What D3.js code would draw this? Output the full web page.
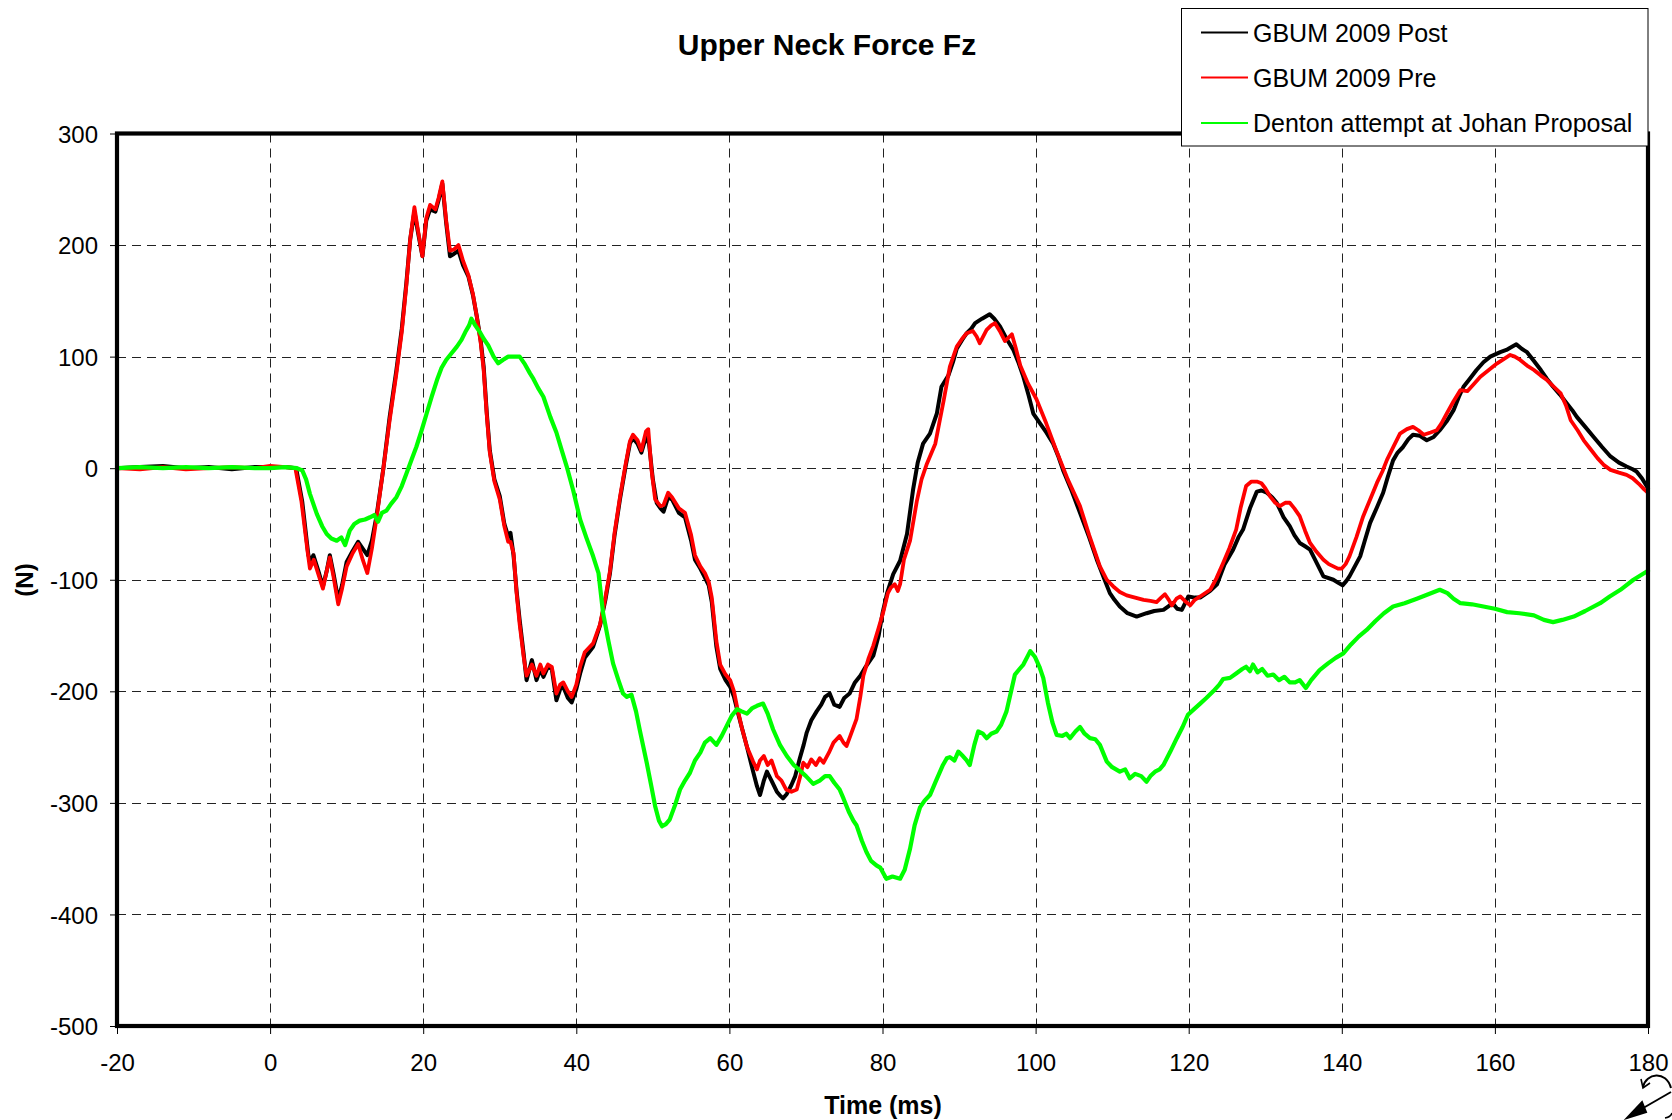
<!DOCTYPE html>
<html>
<head>
<meta charset="utf-8">
<script src="https://cdn.jsdelivr.net/npm/d3@7"></script>
<style>
  html, body { margin: 0; padding: 0; background: #fff; }
  svg { display: block; font-family: Arial, "Liberation Sans", Helvetica, sans-serif; }
</style>
</head>
<body>
<svg id="chart" width="1672" height="1120"></svg>
<script>
// ---------------- data ----------------
const chartTitle = "Upper Neck Force Fz";
const xAxisTitle = "Time (ms)";
const yAxisTitle = "(N)";
const xTicks = [-20, 0, 20, 40, 60, 80, 100, 120, 140, 160, 180];
const yTicks = [300, 200, 100, 0, -100, -200, -300, -400, -500];
const seriesNames = ["GBUM 2009 Post", "GBUM 2009 Pre", "Denton attempt at Johan Proposal"];
const seriesColors = ["#000000", "#ff0000", "#00ff00"];

// [time (ms), force (N)]
const gbumPost = [[-20,0],[-17,1],[-14,2],[-11,0],[-8,1],[-5,-1],[-2,1],[0,1],[2,1],[3.4,0],[4.2,-30],[5.0,-78],[5.3,-84],[5.65,-78],[6.3,-92],[6.9,-106],[7.4,-92],[7.8,-78],[8.3,-95],[8.9,-118],[9.4,-105],[10.0,-84],[10.8,-74],[11.5,-66],[12.1,-72],[12.7,-78],[13.3,-65],[13.9,-43],[14.8,0],[15.6,45],[16.5,88],[17.2,125],[17.8,166],[18.3,205],[18.85,230],[19.3,212],[19.9,190],[20.4,222],[20.9,232],[21.6,230],[22.0,240],[22.5,255],[23.0,220],[23.5,190],[24.0,192],[24.6,195],[25.2,182],[25.9,172],[26.5,155],[27.0,136],[27.5,115],[27.9,91],[28.3,50],[28.7,16],[29.3,-10],[30.0,-25],[30.6,-50],[31.1,-61],[31.4,-58],[31.8,-78],[32.2,-110],[32.6,-136],[33.1,-165],[33.5,-190],[34.2,-172],[34.8,-190],[35.3,-180],[35.7,-187],[36.3,-178],[36.8,-180],[37.4,-208],[37.9,-198],[38.3,-196],[38.9,-206],[39.4,-210],[40.0,-198],[40.5,-184],[41.1,-170],[42.2,-160],[43.1,-141],[43.8,-118],[44.4,-94],[45.0,-60],[45.7,-28],[46.4,0],[47.0,22],[47.4,27],[48.0,22],[48.5,14],[49.1,28],[49.5,22],[50.0,-10],[50.5,-31],[51.0,-36],[51.4,-39],[52.0,-26],[52.5,-28],[53.4,-40],[54.2,-44],[55.0,-65],[55.5,-82],[56.2,-90],[56.8,-98],[57.3,-105],[57.7,-120],[58.3,-160],[58.8,-180],[59.5,-190],[60.1,-196],[60.6,-205],[61.0,-216],[61.6,-232],[62.3,-250],[63.1,-272],[63.6,-285],[64.0,-293],[64.5,-280],[64.9,-272],[65.5,-280],[66.2,-290],[66.7,-294],[67.0,-296],[67.5,-292],[68.1,-284],[68.6,-276],[69.2,-260],[69.7,-248],[70.1,-237],[70.7,-226],[71.4,-218],[72.0,-212],[72.5,-205],[73.1,-202],[73.7,-212],[74.4,-214],[75.0,-206],[75.7,-202],[76.4,-192],[77.1,-186],[77.8,-178],[78.8,-168],[79.5,-150],[80.0,-130],[80.6,-112],[81.4,-95],[82.3,-83],[83.2,-59],[84.0,-19],[84.6,5],[85.3,22],[86.2,31],[87.1,49],[87.7,73],[88.6,83],[89.2,95],[89.7,107],[90.4,115],[91.0,121],[91.6,125],[92.1,130],[93.0,134],[94.0,138],[94.6,134],[95.35,127],[96.2,116],[97.1,106],[97.8,94],[98.4,82],[99.1,65],[99.7,49],[100.6,40],[101.4,32],[102.3,22],[103.0,10],[103.6,-2],[104.7,-20],[105.8,-40],[107.0,-62],[108.0,-82],[108.9,-98],[109.7,-112],[110.3,-118],[111.0,-124],[112.0,-130],[113.2,-133],[114.5,-130],[115.5,-128],[116.7,-127],[117.3,-124],[117.9,-121],[118.5,-126],[119.1,-127],[119.6,-120],[119.95,-115],[120.8,-116],[121.5,-116],[122.8,-110],[123.7,-104],[124.7,-86],[125.8,-73],[126.5,-62],[127.1,-55],[128.0,-36],[128.9,-21],[129.5,-20],[130.2,-22],[130.9,-26],[131.5,-31],[132.4,-44],[133.2,-52],[133.8,-60],[134.5,-67],[135.2,-70],[135.85,-73],[136.8,-86],[137.6,-97],[138.9,-100],[139.6,-103],[140.1,-105],[140.6,-101],[141.0,-97],[141.7,-88],[142.4,-79],[143.0,-65],[143.7,-49],[144.6,-35],[145.4,-22],[146.0,-8],[146.7,7],[147.3,14],[148.0,19],[148.7,26],[149.3,30],[150.2,29],[151.1,25],[152.0,28],[152.8,34],[153.7,42],[154.6,52],[155.3,64],[155.9,73],[156.7,80],[157.6,88],[158.5,95],[159.4,100],[160.7,104],[161.5,106],[162.0,108],[162.8,111],[163.5,107],[164.2,104],[165.1,96],[166.0,88],[166.8,80],[167.6,73],[168.5,66],[169.4,58],[170.1,52],[170.7,46],[171.8,37],[172.9,28],[174.0,19],[175.1,10.5],[176.2,5],[177.2,1.5],[178.0,-1],[178.5,-3],[179.2,-9],[180,-18]];

const gbumPre = [[-20,0],[-17,-1],[-14,1],[-11,-1],[-8,0],[-5,1],[-2,0],[0,2],[2,1],[3.3,0],[4.1,-30],[4.9,-75],[5.2,-90],[5.7,-82],[6.3,-95],[6.9,-108],[7.4,-92],[7.8,-80],[8.3,-98],[8.9,-122],[9.4,-108],[10.0,-88],[10.8,-76],[11.5,-68],[12.1,-82],[12.7,-94],[13.3,-72],[13.9,-45],[14.8,0],[15.6,42],[16.5,85],[17.2,122],[17.8,164],[18.3,205],[18.85,234],[19.3,214],[19.9,190],[20.4,224],[20.9,236],[21.6,232],[22.0,242],[22.5,257],[23.0,222],[23.5,195],[24.0,196],[24.6,200],[25.2,186],[25.9,173],[26.5,156],[27.0,136],[27.5,113],[27.9,88],[28.3,48],[28.7,14],[29.3,-12],[30.0,-28],[30.6,-52],[31.1,-66],[31.4,-66],[31.8,-76],[32.2,-112],[32.6,-140],[33.1,-168],[33.5,-186],[34.2,-176],[34.8,-186],[35.3,-176],[35.7,-184],[36.3,-176],[36.8,-178],[37.4,-202],[37.9,-194],[38.3,-192],[38.9,-200],[39.4,-205],[40.0,-194],[40.5,-178],[41.1,-165],[42.2,-157],[43.1,-140],[43.8,-116],[44.4,-92],[45.0,-58],[45.7,-26],[46.4,2],[47.0,24],[47.4,30],[48.0,25],[48.5,16],[49.1,33],[49.4,35],[49.8,0],[50.3,-28],[51.0,-34],[51.4,-33],[52.0,-22],[52.5,-26],[53.4,-36],[54.2,-40],[55.0,-60],[55.5,-78],[56.2,-88],[56.8,-94],[57.3,-102],[57.7,-116],[58.3,-155],[58.8,-176],[59.5,-185],[60.1,-190],[60.6,-200],[61.0,-214],[61.6,-232],[62.3,-250],[63.1,-263],[63.6,-270],[64.0,-262],[64.5,-258],[65.0,-266],[65.5,-262],[66.2,-276],[66.8,-280],[67.4,-288],[68.1,-290],[68.8,-288],[69.3,-275],[69.65,-264],[70.2,-268],[70.7,-261],[71.3,-266],[71.8,-260],[72.3,-264],[73.0,-255],[73.6,-246],[74.4,-240],[74.9,-246],[75.3,-249],[75.8,-240],[76.6,-225],[77.1,-205],[77.5,-186],[78.2,-170],[78.8,-159],[79.5,-143],[80.1,-129],[80.7,-112],[81.1,-107],[81.6,-104],[82.0,-110],[82.3,-104],[82.8,-82],[83.6,-65],[84.5,-29],[85.1,-10],[85.8,4],[86.9,22],[87.4,40],[88.0,61],[88.8,91],[89.7,109],[90.4,116],[91.0,121],[91.8,123],[92.3,118],[92.7,112],[93.6,124],[94.2,128],[94.7,130],[95.4,122],[96.0,114],[96.9,120],[97.4,108],[98.0,92],[99.0,76],[100.1,62],[101.4,40],[102.7,16],[104.2,-10],[105.8,-34],[107.0,-60],[108.4,-88],[109.3,-100],[110.15,-106],[111.0,-111],[111.9,-114],[113.0,-116],[114.1,-118],[115.0,-119],[115.8,-120],[116.4,-116],[116.9,-113],[117.4,-118],[117.8,-123],[118.4,-117],[118.9,-115],[119.5,-119],[120.2,-123],[120.8,-118],[121.5,-115],[122.8,-109],[123.6,-99],[124.5,-85],[125.3,-72],[126.2,-55],[126.8,-35],[127.5,-16],[128.2,-12],[128.9,-12],[129.5,-13.5],[130.0,-18],[130.6,-25],[131.3,-31],[131.9,-34],[132.6,-31],[133.2,-31],[133.8,-36],[134.5,-43],[135.2,-56],[135.85,-67],[136.7,-75],[137.6,-82],[138.3,-86],[138.9,-88],[139.5,-90],[140.0,-90],[140.5,-86],[141.0,-79],[141.9,-62],[142.8,-43],[143.7,-28],[144.6,-13],[145.3,-3],[145.9,7.5],[146.8,20],[147.6,31],[148.5,35],[149.3,37],[150.0,34],[150.7,30],[151.6,32],[152.4,34],[153.0,40],[153.7,49],[154.6,60],[155.5,70],[156.4,69],[157.2,75],[158.1,82],[159.2,88],[160.3,94],[161.2,98],[162.0,101.5],[162.6,100],[163.3,97],[164.2,92],[165.1,88],[166.0,83],[166.8,79],[167.7,73],[168.6,67],[169.3,56],[169.9,43],[170.8,34],[171.6,25],[172.5,17],[173.4,9],[174.2,3],[175.1,-1.5],[176.2,-4],[177.2,-6],[178.0,-9],[178.8,-14],[179.5,-19],[180,-22]];

const dentonJohan = [[-20,0],[-17,1],[-14,0],[-11,1],[-8,0],[-5,1],[-2,0],[0,0],[2,1],[3.5,0],[4.2,-2],[4.7,-10],[5.2,-23],[6.1,-41],[6.8,-52],[7.4,-59],[8.0,-63],[8.7,-65],[9.3,-62],[9.8,-69],[10.4,-56],[11.0,-50],[11.7,-47],[12.4,-46],[13.05,-44],[13.6,-42],[14.1,-48],[14.6,-40],[15.2,-38],[15.8,-32],[16.5,-26],[17.2,-16],[17.8,-5],[18.5,8],[19.1,19],[19.8,34],[20.45,49],[21.1,64],[21.8,79],[22.4,90],[23.0,97],[23.7,103],[24.4,109],[25.0,115],[25.5,122],[26.0,128],[26.3,134],[26.8,128],[27.4,122],[27.9,116],[28.5,110],[29.2,100],[29.8,94],[30.4,97],[31.1,100],[31.8,100],[32.6,100],[33.3,93],[33.95,85],[34.4,80],[35.0,72],[35.7,64],[36.6,46],[37.4,32],[38.1,16],[38.75,1.5],[39.6,-20],[40.5,-46],[41.3,-62],[42.2,-79],[42.9,-94],[43.5,-130],[44.2,-155],[44.8,-175],[45.5,-190],[46.1,-202],[46.6,-205],[47.2,-203],[47.8,-218],[48.3,-235],[49.2,-264],[49.8,-285],[50.3,-303],[50.8,-316],[51.2,-321],[51.7,-319],[52.2,-315],[52.9,-302],[53.55,-288],[54.2,-280],[54.85,-273],[55.5,-262],[56.2,-255],[56.8,-246],[57.5,-242],[58.3,-248],[59.0,-240],[59.65,-231],[60.3,-222],[61.0,-216],[61.6,-218],[62.3,-220],[63.0,-215],[63.6,-213],[64.4,-211],[65.0,-220],[65.7,-234],[66.6,-248],[67.5,-258],[68.4,-266],[69.2,-271],[70.0,-276],[70.95,-283],[71.8,-280],[72.5,-276],[73.1,-276],[73.7,-282],[74.4,-288],[74.9,-296],[75.6,-308],[76.2,-316],[76.6,-320],[77.3,-334],[77.9,-344],[78.5,-352],[79.2,-356],[79.7,-358],[80.5,-368],[81.3,-366],[82.3,-368],[82.9,-360],[83.6,-341],[84.2,-320],[84.9,-304],[85.5,-298],[86.2,-293],[87.0,-280],[87.9,-266],[88.4,-260],[88.8,-259],[89.4,-262],[89.9,-254],[90.5,-258],[91.0,-262],[91.4,-266],[92.0,-248],[92.5,-236],[93.1,-238],[93.6,-242],[94.2,-238],[94.9,-236],[95.5,-230],[96.2,-218],[96.8,-200],[97.3,-185],[97.9,-180],[98.4,-176],[99.0,-168],[99.3,-164],[99.9,-169],[100.5,-178],[101.0,-188],[101.6,-210],[102.2,-228],[102.75,-239],[103.5,-240],[104.0,-238],[104.5,-242],[105.2,-236],[105.8,-232],[106.4,-238],[107.1,-242],[107.8,-243],[108.4,-248],[109.3,-263],[110.0,-268],[111.0,-272],[111.7,-270],[112.3,-278],[113.0,-274],[113.8,-276],[114.5,-281],[115.0,-276],[115.6,-272],[116.2,-270],[116.7,-266],[117.6,-254],[118.45,-242],[119.2,-232],[119.9,-221],[120.7,-216],[121.5,-211],[122.3,-206],[123.2,-200],[124.0,-194],[124.5,-189],[125.4,-188],[126.2,-184],[127.0,-180],[127.5,-178],[128.0,-182],[128.4,-176],[129.0,-183],[129.6,-180],[130.3,-186],[131.05,-185],[131.8,-190],[132.5,-187],[133.2,-192],[133.9,-192],[134.5,-190],[135.3,-197],[136.0,-190],[137.1,-181],[138.2,-175],[139.2,-170],[140.2,-166],[141.2,-158],[142.2,-151],[143.25,-145],[144.4,-137],[145.5,-130],[146.7,-124],[148.2,-121],[149.8,-117],[151.3,-113],[152.8,-109],[153.8,-112],[154.6,-117],[155.5,-121],[157.0,-122],[158.5,-124],[160.0,-126],[161.6,-129],[163.2,-130],[165.1,-132],[166.4,-136],[167.6,-138],[168.8,-136],[170.3,-133],[171.8,-128],[173.75,-121],[175.0,-115],[176.4,-109],[178.1,-100],[180,-92]];

const seriesData = [gbumPost, gbumPre, dentonJohan];

// ---------------- drawing ----------------
const svg = d3.select("#chart");
const plot = { left: 117, right: 1648, top: 133.5, bottom: 1026 };

const x = d3.scaleLinear().domain([-20, 180]).range([plot.left, plot.right]);
const y = d3.scaleLinear().domain([-500, 300]).range([plot.bottom, plot.top]);

svg.append("rect").attr("width", 1672).attr("height", 1120).attr("fill", "#fff");

// grid
const grid = svg.append("g").attr("class", "grid");
grid.selectAll("line.vx")
  .data(xTicks.filter(d => d > -20 && d < 180))
  .join("line")
  .attr("x1", d => Math.round(x(d)) + 0.5).attr("x2", d => Math.round(x(d)) + 0.5)
  .attr("y1", plot.top).attr("y2", plot.bottom)
  .attr("stroke", "#222").attr("stroke-width", 1).attr("stroke-dasharray", "9,6");
grid.selectAll("line.hy")
  .data(yTicks.filter(d => d > -500 && d < 300))
  .join("line")
  .attr("y1", d => Math.round(y(d)) + 0.5).attr("y2", d => Math.round(y(d)) + 0.5)
  .attr("x1", plot.left).attr("x2", plot.right)
  .attr("stroke", "#222").attr("stroke-width", 1).attr("stroke-dasharray", "9,6");

// axes
const yAxis = d3.axisLeft(y).tickValues(yTicks).tickSize(7).tickPadding(12).tickFormat(d => String(d));
const gy = svg.append("g").attr("transform", `translate(${plot.left},0)`).call(yAxis);
gy.select(".domain").remove();
gy.selectAll("text").attr("font-size", 24).attr("fill", "#000").attr("dy", "0.36em")
  .attr("font-family", "Arial, 'Liberation Sans', sans-serif");
gy.selectAll("line").attr("stroke", "#000");

const xAxis = d3.axisBottom(x).tickValues(xTicks).tickSize(8).tickPadding(20).tickFormat(d => String(d));
const gx = svg.append("g").attr("transform", `translate(0,${plot.bottom})`).call(xAxis);
gx.select(".domain").remove();
gx.selectAll("text").attr("font-size", 24).attr("fill", "#000")
  .attr("font-family", "Arial, 'Liberation Sans', sans-serif");
gx.selectAll("line").attr("stroke", "#000");

// series
const line = d3.line().x(d => x(d[0])).y(d => y(d[1])).curve(d3.curveLinear);
const seriesWidths = [4, 3.8, 4.2];
svg.append("g").attr("class", "series")
  .selectAll("path")
  .data(seriesData)
  .join("path")
  .attr("d", line)
  .attr("fill", "none")
  .attr("stroke", (d, i) => seriesColors[i])
  .attr("stroke-width", (d, i) => seriesWidths[i])
  .attr("stroke-linejoin", "round")
  .attr("stroke-linecap", "round");

// frame
svg.append("rect")
  .attr("x", plot.left).attr("y", plot.top)
  .attr("width", plot.right - plot.left).attr("height", plot.bottom - plot.top)
  .attr("fill", "none").attr("stroke", "#000").attr("stroke-width", 4.2);

// titles
svg.append("text").attr("x", 827).attr("y", 55).attr("text-anchor", "middle")
  .attr("font-size", 30).attr("font-weight", "bold").text(chartTitle);
svg.append("text").attr("x", 883).attr("y", 1114).attr("text-anchor", "middle")
  .attr("font-size", 25).attr("font-weight", "bold").text(xAxisTitle);
svg.append("text").attr("transform", "translate(24.5,580) rotate(-90)")
  .attr("text-anchor", "middle").attr("dominant-baseline", "central")
  .attr("font-size", 24).attr("font-weight", "bold").text(yAxisTitle);

// legend
const lg = svg.append("g").attr("class", "legend");
lg.append("rect").attr("x", 1181.5).attr("y", 8.5).attr("width", 466.5).attr("height", 137.5)
  .attr("fill", "#fff").attr("stroke", "#000").attr("stroke-width", 1);
const legendY = [32.5, 77.5, 123];
const items = lg.selectAll("g.item").data(seriesNames).join("g")
  .attr("transform", (d, i) => `translate(0,${legendY[i]})`);
items.append("line").attr("x1", 1201).attr("x2", 1248).attr("y1", 0).attr("y2", 0)
  .attr("stroke", (d, i) => seriesColors[i]).attr("stroke-width", 2);
items.append("text").attr("x", 1253).attr("y", 0).attr("dy", "0.36em")
  .attr("font-size", 25).attr("fill", "#000").text(d => d);

// small rotate icon (bottom right corner)
const icon = svg.append("g").attr("fill", "none").attr("stroke", "#000").attr("stroke-width", 2);
icon.append("path").attr("d", "M1643,1087 C1646,1073 1666,1070 1671,1088");
icon.append("path").attr("d", "M1641,1079 L1643,1088 L1650,1083").attr("stroke-width", 1.6);
icon.append("path").attr("d", "M1671,1092 L1638,1111");
icon.append("path").attr("d", "M1627,1118 L1642,1102 L1646,1112 Z").attr("fill", "#000");
icon.append("path").attr("d", "M1665,1118 Q1671,1117 1672,1113").attr("stroke-width", 1.5);
</script>
</body>
</html>
